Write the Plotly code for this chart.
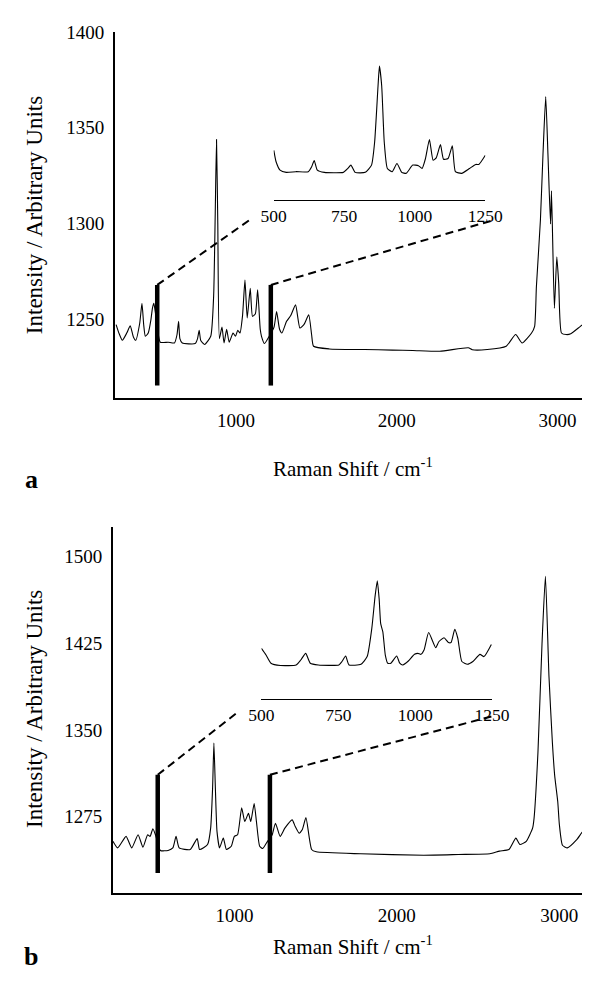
import plotly.graph_objects as go

# ---------------- data ----------------
# Panel a: full spectrum
shift_a = [253, 270, 292, 320, 341, 360, 375, 400, 414, 425, 435, 453, 470, 479, 488, 500,
           528, 577, 616, 632, 642, 650, 665, 745, 760, 770, 780, 804, 842, 860, 870, 878,
           886, 896, 912, 925, 941, 957, 981, 996, 1010, 1024, 1040, 1055, 1069, 1088, 1102,
           1120, 1134, 1150, 1158, 1177, 1206, 1236, 1252, 1270, 1285, 1314, 1340, 1370, 1397,
           1423, 1452, 1470, 1482, 1580, 1800, 1973, 2100, 2268, 2445, 2470, 2563, 2681, 2740,
           2780, 2839, 2858, 2869, 2894, 2910, 2927, 2941, 2957, 2963, 2981, 2996, 3008, 3025,
           3055, 3083, 3143, 3200]
intensity_a = [1247.3, 1243, 1239.1, 1243, 1246.7, 1241, 1239.1, 1248, 1258.4, 1247, 1241.2, 1242.9,
               1250, 1255.8, 1258.4, 1252, 1238.1, 1238.1, 1237.7, 1242, 1249.0, 1240, 1237.7,
               1237.4, 1240, 1244.3, 1239, 1236.9, 1241.2, 1262, 1305, 1343.8, 1300, 1240, 1246.0,
               1237.7, 1244.8, 1238.1, 1242.9, 1241.2, 1244.3, 1242.9, 1252, 1270.5, 1250.7, 1266.2,
               1251.6, 1253, 1265.4, 1245, 1241.2, 1237.4, 1241.2, 1246.0, 1254.1, 1245, 1242.9,
               1249, 1252, 1257.6, 1245.5, 1247.4, 1252.4, 1242, 1236.0, 1234.6, 1234.3, 1234.0,
               1233.8, 1233.4, 1235.2, 1234.2, 1234.3, 1236, 1242.1, 1237.7, 1242.9, 1246.4, 1267,
               1301.7, 1336.0, 1366.2, 1336, 1299.8, 1317.1, 1255.8, 1282.6, 1268.8, 1242.9,
               1242.1, 1242.5, 1246.4, 1249.8]

# Panel a inset (500-1250 cm-1)
inset_shift_a = [501, 509, 523, 545, 579, 623, 635, 644, 655, 680, 747, 763, 774, 789, 825, 847,
                 858, 870, 875, 883, 892, 903, 920, 937, 954, 970, 993, 1013, 1026, 1038, 1052,
                 1065, 1076, 1091, 1102, 1118, 1133, 1144, 1166, 1194, 1216, 1227, 1250]
inset_int_a = [1258.5, 1246.8, 1238.3, 1236, 1236.7, 1236.7, 1241.7, 1248.1, 1238.3, 1236, 1236,
               1240, 1243.4, 1236, 1236, 1243.4, 1267, 1324.2, 1344.4, 1324.2, 1267, 1240,
               1236.7, 1245.1, 1236, 1235, 1243.4, 1242.8, 1240, 1250.1, 1269.6, 1248.4, 1250.8,
               1264.3, 1249.4, 1250.1, 1263, 1236.7, 1235, 1240, 1244.1, 1244.1, 1253.5]

# Panel b: full spectrum
shift_b = [251, 280, 332, 367, 406, 436, 465, 480, 497, 513, 543, 591, 620, 640, 659, 727, 770,
           785, 834, 853, 865, 873, 882, 892, 908, 931, 950, 980, 999, 1019, 1044, 1063, 1086,
           1100, 1121, 1135, 1155, 1174, 1203, 1232, 1252, 1281, 1310, 1355, 1374, 1398, 1417,
           1440, 1475, 1504, 1777, 2165, 2379, 2573, 2632, 2690, 2733, 2758, 2797, 2836, 2845,
           2869, 2894, 2915, 2937, 2958, 2972, 2991, 3001, 3020, 3050, 3108, 3156, 3186]
intensity_b = [1253.6, 1247.9, 1257.9, 1247.9, 1259.3, 1248.5, 1259.3, 1257.9, 1264.5, 1259.3,
               1245.7, 1245.7, 1247.9, 1257.9, 1247.9, 1246.5, 1255.9, 1246.5, 1250.8, 1265.0,
               1300, 1338.6, 1300, 1262.2, 1247.9, 1256.4, 1246.5, 1249.3, 1257.9, 1259.3, 1282.7,
               1270.7, 1277.8, 1270.7, 1286.4, 1270.7, 1249.3, 1247.4, 1253.6, 1259.3, 1269.3,
               1257.9, 1265.0, 1272.2, 1266.4, 1260.7, 1263.6, 1274.1, 1246.5, 1244.5, 1242.8,
               1241.6, 1242.2, 1242.8, 1245.1, 1246.5, 1256.4, 1250.8, 1253.6, 1265.0, 1273.5,
               1330.6, 1424.7, 1483.1, 1396, 1339, 1310.7, 1287.8, 1268, 1250.2, 1247.9, 1255.1,
               1264, 1265.0]

# Panel b inset (500-1250 cm-1)
inset_shift_b = [500, 515, 531, 562, 613, 628, 644, 659, 685, 752, 762, 774, 785, 824, 844, 859,
                 870, 877, 883, 888, 895, 903, 911, 921, 940, 950, 960, 978, 998, 1009, 1019,
                 1029, 1044, 1067, 1077, 1094, 1108, 1117, 1129, 1139, 1152, 1170, 1188, 1211,
                 1224, 1248]
inset_int_b = [1263.7, 1256.3, 1247.2, 1244.7, 1245.3, 1250.8, 1258.2, 1247.2, 1245.3, 1245.3,
               1249.1, 1255.3, 1245.3, 1246.1, 1254.6, 1285.7, 1322.3, 1338.8, 1318.7, 1291.2,
               1282.1, 1256.3, 1247.2, 1247.2, 1255.3, 1247.2, 1245.3, 1249.7, 1257.1, 1258.2,
               1257.1, 1261.8, 1281.3, 1264.5, 1271.1, 1275.5, 1270.3, 1270.3, 1284.9, 1274.7,
               1249.1, 1246.1, 1249.1, 1257.1, 1254.6, 1268.1]

# tick labels
main_xticks = [1000, 2000, 3000]
yticks_a = [1250, 1300, 1350, 1400]
yticks_b = [1275, 1350, 1425, 1500]
inset_xticks = [500, 750, 1000, 1250]

# zoom markers (bar positions and connector ends, in data units of each panel)
bars_a = [509, 1216]
bar_span_a = [1215.5, 1268.0]
connector_end_a = [(1088, 1302.1), (2602, 1301.8)]
bars_b = [527, 1218]
bar_span_b = [1226.1, 1311.2]
connector_end_b = [(1028, 1366.3), (2605, 1362.5)]

# ---------------- layout helpers ----------------
# The page body keeps its default 8px margin, so the figure is sized to fit the
# window exactly and page pixels are converted to paper fractions with that offset.
WIN_W, WIN_H, PAGE_MARGIN = 608, 981, 8
W, H = WIN_W - 2 * PAGE_MARGIN, WIN_H - 2 * PAGE_MARGIN
def fx(px):
    return (px - PAGE_MARGIN) / W
def fy(py):
    return 1 - (py - PAGE_MARGIN) / H

FONT = "Liberation Serif, Times New Roman, serif"
BLACK = "#000000"

fig = go.Figure()
line_kw = dict(color=BLACK, width=1.1, shape="spline", smoothing=0.5)
fig.add_trace(go.Scatter(x=shift_a, y=intensity_a, mode="lines", line=line_kw,
                         xaxis="x", yaxis="y", showlegend=False, hoverinfo="skip"))
fig.add_trace(go.Scatter(x=inset_shift_a, y=inset_int_a, mode="lines", line=line_kw,
                         xaxis="x2", yaxis="y2", showlegend=False, hoverinfo="skip"))
fig.add_trace(go.Scatter(x=shift_b, y=intensity_b, mode="lines", line=line_kw,
                         xaxis="x3", yaxis="y3", showlegend=False, hoverinfo="skip"))
fig.add_trace(go.Scatter(x=inset_shift_b, y=inset_int_b, mode="lines", line=line_kw,
                         xaxis="x4", yaxis="y4", showlegend=False, hoverinfo="skip"))

tickfont = dict(family=FONT, size=19, color=BLACK)
insetfont = dict(family=FONT, size=17.5, color=BLACK)
common = dict(showgrid=False, zeroline=False, showline=True, linecolor=BLACK,
              ticks="", fixedrange=True)

# right ends of main axes: the reference crops the plot at the window edge
x_end_a = 245 + (WIN_W - PAGE_MARGIN - 107) / 0.16954
x_end_b = 251 + (WIN_W - PAGE_MARGIN - 105) / 0.17132

layout = dict(
    width=W, height=H, autosize=False,
    margin=dict(l=0, r=0, t=0, b=0, pad=0),
    paper_bgcolor="white", plot_bgcolor="rgba(0,0,0,0)",
    font=dict(family=FONT, color=BLACK),
    showlegend=False,
    xaxis=dict(common, domain=[fx(107), 1], range=[245, x_end_a], anchor="y",
               tickvals=main_xticks, tickfont=tickfont, linewidth=2, ticklabelstandoff=4),
    yaxis=dict(common, domain=[fy(392), fy(22)], range=[1209, 1400], anchor="x",
               tickvals=yticks_a, tickfont=tickfont, linewidth=1.5, ticklabelstandoff=5),
    xaxis2=dict(common, domain=[fx(274.5), fx(498)], range=[500, 1250], anchor="y2",
                tickvals=inset_xticks, tickfont=insetfont, linewidth=1.2, ticklabelstandoff=0),
    yaxis2=dict(domain=[fy(192), fy(50)], range=[1207.7, 1351.1], anchor="x2", visible=False,
                fixedrange=True),
    xaxis3=dict(common, domain=[fx(105), 1], range=[251, x_end_b], anchor="y3",
                tickvals=main_xticks, tickfont=tickfont, linewidth=2, ticklabelstandoff=4),
    yaxis3=dict(common, domain=[fy(892), fy(522)], range=[1209, 1526], anchor="x3",
                tickvals=yticks_b, tickfont=tickfont, linewidth=1.5, ticklabelstandoff=5),
    xaxis4=dict(common, domain=[fx(261.7), fx(505)], range=[500, 1250], anchor="y4",
                tickvals=inset_xticks, tickfont=insetfont, linewidth=1.2, ticklabelstandoff=0),
    yaxis4=dict(domain=[fy(696), fy(560)], range=[1207.6, 1357.2], anchor="x4", visible=False,
                fixedrange=True),
)
fig.update_layout(**layout)

# zoom markers: thick bars and dashed connectors
shapes = []
for (bars, span, ends, xr, yr) in [(bars_a, bar_span_a, connector_end_a, "x", "y"),
                                   (bars_b, bar_span_b, connector_end_b, "x3", "y3")]:
    for xb, (xe, ye) in zip(bars, ends):
        shapes.append(dict(type="line", xref=xr, yref=yr, x0=xb, x1=xb, y0=span[0], y1=span[1],
                           line=dict(color=BLACK, width=4.5)))
        shapes.append(dict(type="line", xref=xr, yref=yr, x0=xb, x1=xe, y0=span[1], y1=ye,
                           line=dict(color=BLACK, width=2, dash="8px,5px")))
fig.update_layout(shapes=shapes)

title_font = dict(family=FONT, size=21, color=BLACK)
ytitle_font = dict(family=FONT, size=23, color=BLACK)
label_font = dict(family=FONT, size=26, color=BLACK)
ann = []
for yc in [207, 706]:
    ann.append(dict(text="Intensity / Arbitrary Units", x=fx(23), y=fy(yc), xref="paper",
                    yref="paper", showarrow=False, textangle=-90, font=ytitle_font,
                    xanchor="center", yanchor="middle"))
for yc in [462, 945]:
    ann.append(dict(text="Raman Shift / cm<sup>-1</sup>", x=fx(358), y=fy(yc), xref="paper",
                    yref="paper", showarrow=False, font=title_font,
                    xanchor="center", yanchor="middle"))
ann.append(dict(text="<b>a</b>", x=fx(19), y=fy(474), xref="paper", yref="paper",
                showarrow=False, font=label_font, xanchor="center", yanchor="middle"))
ann.append(dict(text="<b>b</b>", x=fx(19), y=0, xref="paper", yref="paper",
                showarrow=False, font=label_font, xanchor="center", yanchor="bottom"))
fig.update_layout(annotations=ann)

fig.write_html("out.html", config={"displayModeBar": False, "responsive": False})
